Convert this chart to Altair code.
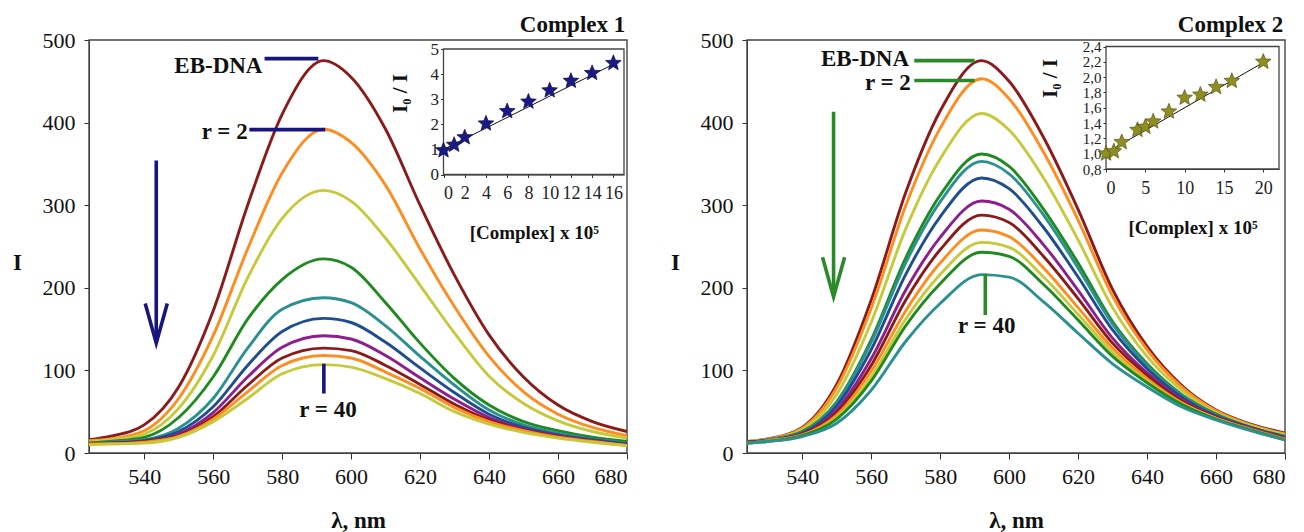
import altair as alt
import pandas as pd

# ---------------- data ----------------
WAVELENGTH = [524, 530, 540, 550, 560, 570, 580, 592, 600, 610, 620, 630, 640, 650, 660, 670, 680]

# Complex 1 emission spectra (EB-DNA, r = 2 ... r = 40)
C1_EB  = [16, 20, 34, 80, 172, 300, 410, 475, 455, 392, 300, 215, 143, 92, 58, 38, 26]
C1_R2  = [15, 17, 27, 66, 142, 247, 339, 392, 376, 324, 247, 177, 117, 74, 47, 31, 21]
C1_S3  = [13, 16, 23, 54, 118, 212, 284, 318, 305, 260, 203, 145, 93, 60, 39, 26, 18]
C1_S4  = [12, 14, 19, 43, 92, 162, 210, 235, 225, 182, 133, 90, 58, 38, 27, 19, 14]
C1_S5  = [11, 13, 16, 30, 66, 127, 174, 188, 182, 154, 117, 82, 52, 34, 24, 17, 12]
C1_S6  = [11, 12, 15, 26, 56, 106, 147, 163, 158, 134, 103, 73, 47, 31, 22, 16, 11]
C1_S7  = [11, 12, 14, 23, 49, 92, 128, 142, 138, 118, 91, 65, 43, 29, 21, 15, 10]
C1_S8  = [12, 12, 14, 21, 44, 82, 115, 127, 124, 106, 83, 59, 40, 28, 20, 14, 10]
C1_S9  = [11, 11, 13, 20, 41, 74, 106, 118, 115, 98, 78, 55, 38, 27, 19, 14, 9]
C1_R40 = [10, 11, 12, 19, 38, 66, 96, 107, 104, 90, 72, 50, 35, 25, 18, 13, 9]
C1_SERIES = [C1_EB, C1_R2, C1_S3, C1_S4, C1_S5, C1_S6, C1_S7, C1_S8, C1_S9, C1_R40]

# Complex 2 emission spectra
C2_EB  = [14, 17, 31, 83, 185, 315, 414, 475, 450, 382, 295, 198, 129, 82, 52, 35, 24]
C2_R2  = [14, 17, 30, 79, 175, 299, 393, 453, 429, 364, 282, 190, 125, 80, 51, 34, 23]
C2_S3  = [14, 16, 28, 71, 158, 271, 356, 411, 391, 333, 258, 176, 117, 76, 49, 33, 22]
C2_S4  = [13, 16, 26, 62, 137, 236, 312, 362, 347, 295, 230, 159, 108, 71, 47, 31, 20]
C2_S5  = [13, 16, 25, 61, 134, 230, 304, 353, 338, 288, 224, 156, 106, 70, 46, 31, 20]
C2_S6  = [13, 15, 24, 57, 125, 216, 286, 333, 320, 273, 213, 149, 102, 68, 45, 31, 19]
C2_S7  = [13, 15, 23, 52, 114, 197, 261, 305, 295, 252, 197, 139, 97, 65, 44, 30, 18]
C2_S8  = [13, 15, 23, 49, 106, 185, 246, 288, 279, 238, 187, 133, 94, 63, 43, 29, 18]
C2_S9  = [12, 15, 22, 46, 99, 172, 230, 270, 262, 224, 176, 127, 90, 61, 42, 29, 17]
C2_S10 = [12, 14, 21, 43, 92, 162, 216, 255, 249, 213, 168, 122, 87, 60, 42, 28, 16]
C2_S11 = [12, 14, 21, 41, 87, 154, 205, 243, 238, 204, 161, 117, 85, 59, 41, 28, 16]
C2_R40 = [12, 14, 20, 36, 76, 135, 181, 216, 213, 183, 145, 108, 80, 56, 40, 27, 16]
C2_SERIES = [C2_EB, C2_R2, C2_S3, C2_S4, C2_S5, C2_S6, C2_S7, C2_S8, C2_S9, C2_S10, C2_S11, C2_R40]

# Stern-Volmer insets
IN1_X = [0, 1, 2, 4, 6, 8, 10, 12, 14, 16]
IN1_Y = [0.96, 1.18, 1.48, 2.03, 2.52, 2.9, 3.35, 3.73, 4.04, 4.44]
IN1_FIT_X = [0, 16.5]
IN1_FIT_Y = [1.0, 4.5]

IN2_X = [0, 1, 2, 4, 5, 6, 8, 10, 12, 14, 16, 20]
IN2_Y = [1.0, 1.03, 1.15, 1.31, 1.35, 1.42, 1.55, 1.73, 1.77, 1.87, 1.95, 2.2]
IN2_FIT_X = [0, 20.5]
IN2_FIT_Y = [1.01, 2.22]

MAIN_X_TICKS = [540, 560, 580, 600, 620, 640, 660, 680]
MAIN_Y_TICKS = [0, 100, 200, 300, 400, 500]
IN1_X_TICKS = [0, 2, 4, 6, 8, 10, 12, 14, 16]
IN1_Y_TICKS = [0, 1, 2, 3, 4, 5]
IN2_X_TICKS = [0, 5, 10, 15, 20]
IN2_Y_TICKS = [0.8, 1.0, 1.2, 1.4, 1.6, 1.8, 2.0, 2.2, 2.4]

# annotation anchors (data coordinates of each panel)
ANN1_LINES = [
    [(574.9, 477.5), (590.5, 477.5)],
    [(570.5, 391.5), (592.5, 391.5)],
    [(592.1, 108), (592.1, 72)],
    [(543.5, 354), (543.5, 136)],
    [(540.3, 181), (543.5, 133), (546.7, 181)],
]
ANN2_LINES = [
    [(572.5, 475), (590, 475)],
    [(572.5, 451), (590, 451)],
    [(593.1, 217), (593.1, 167)],
    [(549.1, 413), (549.1, 192)],
    [(545.9, 237), (549.1, 189), (552.3, 237)],
]
ANN1_TEXT_RIGHT = [("EB-DNA", 574.3, 468), ("r = 2", 570.0, 389), ("Complex 1", 679.5, 518)]
ANN1_TEXT_CENTER = [("r = 40", 593.3, 52)]
ANN2_TEXT_RIGHT = [("EB-DNA", 571.0, 477), ("r = 2", 571.5, 448), ("Complex 2", 679.5, 518)]
ANN2_TEXT_CENTER = [("r = 40", 593.5, 154)]

# ---------------- styles / layout ----------------
PAL1 = ["#8B1A1A", "#FF8C1E", "#C6C93A", "#1F8A1F", "#2A9090", "#1F4E8F",
        "#8E1E8E", "#8B1A1A", "#FF8C1E", "#C6C93A"]
PAL2 = ["#8B1A1A", "#FF8C1E", "#C6C93A", "#1F8A1F", "#2A9090", "#1F4E8F",
        "#8E1E8E", "#8B1A1A", "#FF8C1E", "#C6C93A", "#1F8A1F", "#2A9090"]
STAR = ("M0,-1L0.26,-0.35L0.951,-0.309L0.42,0.14L0.588,0.809L0,0.44"
        "L-0.588,0.809L-0.42,0.14L-0.951,-0.309L-0.26,-0.35Z")
FONT = "Liberation Serif"
W, H = 1304, 532
MAIN_DOM_X = [524, 680]
MAIN_DOM_Y = [0, 500]
MAIN_RY = [453, 40]
P1_RX = [89, 627]
P2_RX = [747, 1285]
IN1_DOM_X, IN1_DOM_Y = [0, 17], [0, 5]
IN1_RX, IN1_RY = [443.5, 624], [174.5, 49]
IN2_DOM_X, IN2_DOM_Y = [0, 22], [0.8, 2.4]
IN2_RX, IN2_RY = [1106, 1279], [169, 46.5]


def scale(dom, rng):
    return alt.Scale(domain=dom, range=rng, nice=False, zero=False)


def main_axis_x():
    return alt.Axis(orient="bottom", offset=MAIN_RY[0] - H, values=MAIN_X_TICKS,
                    tickSize=6, labelFontSize=22, labelFont=FONT, labelPadding=7,
                    labelColor="#111", domainColor="#333", tickColor="#333",
                    title="λ, nm", titleFont=FONT, titleFontSize=23, titleFontWeight="bold",
                    titleBaseline="middle", titleY=67, titleColor="#111", grid=False)


def main_axis_y(rx0):
    return alt.Axis(orient="left", offset=-rx0, values=MAIN_Y_TICKS, tickSize=5,
                    labelFontSize=22, labelFont=FONT, labelPadding=9, labelColor="#111",
                    domainColor="#333", tickColor="#333", title="I", titleFont=FONT,
                    titleFontSize=23, titleFontWeight="bold", titleAngle=0,
                    titleAlign="center", titleBaseline="middle", titleX=-72, titleY=262,
                    titleColor="#111", grid=False)


def panel(series, pal, rx, ann_lines, txt_right, txt_center, ann_color):
    xs = scale(MAIN_DOM_X, rx)
    ys = scale(MAIN_DOM_Y, MAIN_RY)
    out = []
    frame = alt.Chart(pd.DataFrame({"a": [MAIN_DOM_X[0]], "b": [MAIN_DOM_X[1]],
                                    "c": [MAIN_DOM_Y[0]], "d": [MAIN_DOM_Y[1]]})).mark_rect(
        fillOpacity=0, stroke="#444", strokeWidth=1.4).encode(
        x=alt.X("a:Q", scale=xs, axis=None), x2="b:Q",
        y=alt.Y("c:Q", scale=ys, axis=None), y2="d:Q")
    out.append(frame)

    for i, (vals, col) in enumerate(zip(series, pal)):
        df = pd.DataFrame({"wl": WAVELENGTH, "I": vals})
        first = i == 0
        out.append(alt.Chart(df).mark_line(interpolate="monotone", strokeWidth=2.9,
                                           color=col).encode(
            x=alt.X("wl:Q", scale=xs, axis=main_axis_x() if first else None),
            y=alt.Y("I:Q", scale=ys, axis=main_axis_y(rx[0]) if first else None)))

    for pts in ann_lines:
        df = pd.DataFrame(pts, columns=["wl", "I"])
        df["k"] = range(len(df))
        out.append(alt.Chart(df).mark_line(color=ann_color, strokeWidth=3.6).encode(
            x=alt.X("wl:Q", scale=xs, axis=None), y=alt.Y("I:Q", scale=ys, axis=None),
            order="k:Q"))

    def texts(items, align):
        d = pd.DataFrame(items, columns=["t", "wl", "I"])
        return alt.Chart(d).mark_text(align=align, baseline="middle", font=FONT,
                                      fontSize=23, fontWeight="bold", color="#111").encode(
            x=alt.X("wl:Q", scale=xs, axis=None), y=alt.Y("I:Q", scale=ys, axis=None),
            text="t:N")

    out += [texts(txt_right, "right"), texts(txt_center, "center")]
    return out


def inset(xv, yv, fx, fy, domx, domy, rx, ry, xticks, yticks, star_fill, star_stroke,
          comma, ytitle_x, ytitle_y, xfont, yfont):
    xs = scale(domx, rx)
    ys = scale(domy, ry)
    box = alt.Chart(pd.DataFrame({"a": [domx[0]], "b": [domx[1]],
                                  "c": [domy[0]], "d": [domy[1]]})).mark_rect(
        fill="white", stroke="#444", strokeWidth=1.3).encode(
        x=alt.X("a:Q", scale=xs, axis=None), x2="b:Q",
        y=alt.Y("c:Q", scale=ys, axis=None), y2="d:Q")
    fit = alt.Chart(pd.DataFrame({"x": fx, "y": fy})).mark_line(
        color="#111", strokeWidth=1).encode(
        x=alt.X("x:Q", scale=xs, axis=None), y=alt.Y("y:Q", scale=ys, axis=None))
    yaxis_kw = dict(orient="left", offset=-rx[0], values=yticks, tickSize=3,
                    labelFont=FONT, labelFontSize=yfont, labelPadding=2, labelColor="#222",
                    domainColor="#333", tickColor="#333", title="I₀ / I", titleFont=FONT,
                    titleFontSize=21, titleFontWeight="bold", titleAngle=270,
                    titleAlign="center", titleBaseline="middle", titleX=ytitle_x,
                    titleY=ytitle_y, titleColor="#111", grid=False)
    if comma:
        yaxis_kw["labelExpr"] = "replace(datum.label, '.', ',')"
        yaxis_kw["format"] = ".1f"
    stars = alt.Chart(pd.DataFrame({"x": xv, "y": yv})).mark_point(
        shape=STAR, filled=True, size=270, fill=star_fill, stroke=star_stroke,
        strokeWidth=0.7, opacity=1).encode(
        x=alt.X("x:Q", scale=xs, axis=alt.Axis(
            orient="bottom", offset=ry[0] - H, values=xticks, tickSize=3, labelFont=FONT,
            labelFontSize=xfont, labelPadding=7, labelColor="#222", domainColor="#333",
            tickColor="#333", title="[Complex] x 10⁵", titleFont=FONT, titleFontSize=19,
            titleFontWeight="bold", titleBaseline="middle", titleY=58, titleColor="#111",
            grid=False)),
        y=alt.Y("y:Q", scale=ys, axis=alt.Axis(**yaxis_kw)),
    )
    return [box, fit, stars]


layers = []
layers += panel(C1_SERIES, PAL1, P1_RX, ANN1_LINES, ANN1_TEXT_RIGHT, ANN1_TEXT_CENTER, "#16167E")
layers += panel(C2_SERIES, PAL2, P2_RX, ANN2_LINES, ANN2_TEXT_RIGHT, ANN2_TEXT_CENTER, "#2A8A2A")
layers += inset(IN1_X, IN1_Y, IN1_FIT_X, IN1_FIT_Y, IN1_DOM_X, IN1_DOM_Y, IN1_RX, IN1_RY,
                IN1_X_TICKS, IN1_Y_TICKS, "#1A1A82", "#0C0C50", False, -43, 93, 18, 17)
layers += inset(IN2_X, IN2_Y, IN2_FIT_X, IN2_FIT_Y, IN2_DOM_X, IN2_DOM_Y, IN2_RX, IN2_RY,
                IN2_X_TICKS, IN2_Y_TICKS, "#8E8E22", "#55550E", True, -56, 78, 18, 15)

chart = alt.layer(*layers).resolve_scale(
    x="independent", y="independent"
).properties(
    width=W, height=H, padding=0, autosize=alt.AutoSizeParams(type="none"),
    background="white",
).configure_view(strokeOpacity=0).configure_axis(
    labelFont=FONT, titleFont=FONT
).configure_text(font=FONT)

chart.save("out.html", embed_options={"renderer": "svg", "actions": False})
